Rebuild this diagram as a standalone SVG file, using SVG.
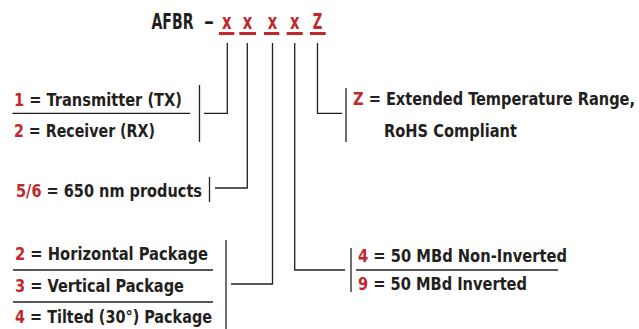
<svg xmlns="http://www.w3.org/2000/svg" width="639" height="329" viewBox="0 0 639 329">
<style>
text{font-family:"DejaVu Sans Condensed","DejaVu Sans",sans-serif;font-stretch:condensed;font-weight:bold;fill:#231f20}
.h{font-size:22px}
.l{font-size:17.8px}
.r{fill:#c1272d}
.ln{stroke:#231f20;stroke-width:1.3;fill:none}
.ul{stroke:#c1272d;stroke-width:3;fill:none}
</style>
<rect width="639" height="329" fill="#ffffff"/>
<g id="code">
<text class="h" x="151.5" y="29" textLength="42" lengthAdjust="spacingAndGlyphs">AFBR</text>
<text class="h" x="204" y="29" textLength="10" lengthAdjust="spacingAndGlyphs">–</text>
<text class="h r" x="222" y="29" textLength="9.5" lengthAdjust="spacingAndGlyphs">x</text>
<text class="h r" x="242.7" y="29" textLength="9.5" lengthAdjust="spacingAndGlyphs">x</text>
<text class="h r" x="267.8" y="29" textLength="9.5" lengthAdjust="spacingAndGlyphs">x</text>
<text class="h r" x="290" y="29" textLength="9.5" lengthAdjust="spacingAndGlyphs">x</text>
<text class="h r" x="312.7" y="29" textLength="9.5" lengthAdjust="spacingAndGlyphs">Z</text>
<path class="ul" d="M219 33.5H234.3M239.3 33.5H256M264 33.5H279.3M286.7 33.5H302.7M310 33.5H325.7"/>
</g>
<g id="connectors">
<path class="ln" d="M227.3 43V113.3H204"/>
<path class="ln" d="M247.3 43V188H215"/>
<path class="ln" d="M272.5 43V284H231"/>
<path class="ln" d="M294.7 43V270H345"/>
<path class="ln" d="M317.5 43V113.3H342"/>
</g>
<g id="node-txrx">
<text class="l" x="14" y="105.5" textLength="168" lengthAdjust="spacingAndGlyphs"><tspan class="r">1</tspan> = Transmitter (TX)</text>
<path class="ln" d="M12.5 113.3H190"/>
<text class="l" x="14" y="136.7" textLength="141" lengthAdjust="spacingAndGlyphs"><tspan class="r">2</tspan> = Receiver (RX)</text>
<path class="ln" d="M199.5 85V142"/>
</g>
<g id="node-wavelength">
<text class="l" x="16" y="196.5" textLength="186" lengthAdjust="spacingAndGlyphs"><tspan class="r">5/6</tspan> = 650 nm products</text>
<path class="ln" d="M209.5 177V202"/>
</g>
<g id="node-package">
<text class="l" x="15" y="260" textLength="193" lengthAdjust="spacingAndGlyphs"><tspan class="r">2</tspan> = Horizontal Package</text>
<path class="ln" d="M13 270H213"/>
<text class="l" x="15" y="292" textLength="169" lengthAdjust="spacingAndGlyphs"><tspan class="r">3</tspan> = Vertical Package</text>
<path class="ln" d="M13 302H213"/>
<text class="l" x="15" y="323" textLength="197" lengthAdjust="spacingAndGlyphs"><tspan class="r">4</tspan> = Tilted (30°) Package</text>
<path class="ln" d="M226 240V329"/>
</g>
<g id="node-speed">
<text class="l" x="358" y="262" textLength="209" lengthAdjust="spacingAndGlyphs"><tspan class="r">4</tspan> = 50 MBd Non-Inverted</text>
<path class="ln" d="M356 270H558"/>
<text class="l" x="358" y="290" textLength="169" lengthAdjust="spacingAndGlyphs"><tspan class="r">9</tspan> = 50 MBd Inverted</text>
<path class="ln" d="M351 248V292"/>
</g>
<g id="node-temp">
<text class="l" x="353" y="105" textLength="282" lengthAdjust="spacingAndGlyphs"><tspan class="r">Z</tspan> = Extended Temperature Range,</text>
<text class="l" x="384" y="137" textLength="133" lengthAdjust="spacingAndGlyphs">RoHS Compliant</text>
<path class="ln" d="M346 88V142"/>
</g>
</svg>
